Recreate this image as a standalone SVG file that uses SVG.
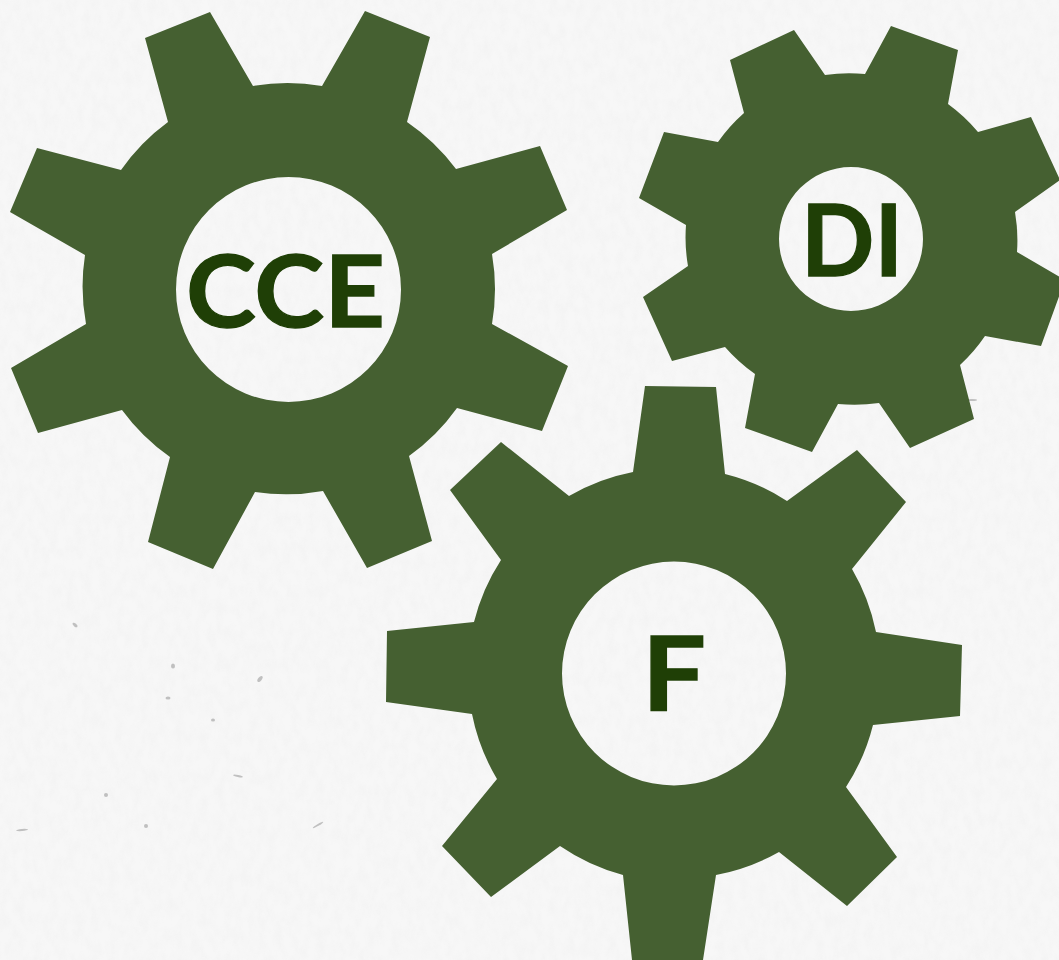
<svg xmlns="http://www.w3.org/2000/svg" width="1059" height="960" viewBox="0 0 1059 960">
<style>
.gear{fill:#456031;fill-rule:evenodd}
.lbl{font-family:"Lato","Liberation Sans",sans-serif;font-weight:700;fill:#1f3f06;stroke:#1f3f06;stroke-width:1.3;text-anchor:start}
.speck{fill:#8a8a8a;opacity:.5}
</style>
<defs>
<filter id="paper" x="0" y="0" width="100%" height="100%">
<feTurbulence type="fractalNoise" baseFrequency="0.12 0.07" numOctaves="4" seed="7"/>
<feColorMatrix type="matrix" values="0 0 0 0 0.55  0 0 0 0 0.55  0 0 0 0 0.55  0.3 0 0 0 -0.1"/>
</filter>
</defs>
<rect id="background" width="1059" height="960" fill="#f7f7f7"/>
<rect width="1059" height="960" filter="url(#paper)" opacity="0.4"/>
<g id="paper-specks">
<ellipse class="speck" cx="260" cy="679" rx="3.500" ry="1.800" transform="rotate(-50 260 679)"/>
<ellipse class="speck" cx="173" cy="666" rx="2" ry="2.500"/>
<ellipse class="speck" cx="168" cy="698" rx="2.500" ry="1.500"/>
<ellipse class="speck" cx="75" cy="625" rx="3" ry="1.500" transform="rotate(40 75 625)"/>
<ellipse class="speck" cx="213" cy="720" rx="2" ry="1.500"/>
<ellipse class="speck" cx="238" cy="776" rx="5" ry="1" transform="rotate(12 238 776)"/>
<ellipse class="speck" cx="22" cy="830" rx="6" ry="1" transform="rotate(-5 22 830)"/>
<ellipse class="speck" cx="106" cy="795" rx="2" ry="2"/>
<ellipse class="speck" cx="146" cy="826" rx="2" ry="2"/>
<ellipse class="speck" cx="402" cy="171" rx="4" ry="3"/>
<ellipse class="speck" cx="175" cy="497" rx="3" ry="3"/>
<ellipse class="speck" cx="318" cy="825" rx="6" ry="1" transform="rotate(-30 318 825)"/>
<ellipse class="speck" cx="972" cy="400" rx="5" ry="1"/>
</g>
<g id="gear-cce">
<path class="gear" d="M253 86A206 206 0 0 1 322 86L365 11L430 37L407 122A206 206 0 0 1 456 169L540 146L567 210L492 254A206 206 0 0 1 492 324L568 366L542 431L457 408A206 206 0 0 1 409 456L432 541L367 568L323 491A206 206 0 0 1 255 492L213 569L148 542L170 457A206 206 0 0 1 122 410L38 433L11 368L86 324A206 206 0 0 1 85 255L10 212L37 148L121 170A206 206 0 0 1 168 122L145 38L210 12ZM401 289.500A112.500 112.500 0 1 0 176 289.500A112.500 112.500 0 1 0 401 289.500Z"/>
<text class="lbl" x="186" y="327" font-size="100" textLength="199" lengthAdjust="spacingAndGlyphs">CCE</text>
</g>
<g id="gear-di">
<path class="gear" d="M825 75A166 166 0 0 1 865 74L891 26L958 50L948 104A166 166 0 0 1 978 132L1031 117L1060 180L1015 212A166 166 0 0 1 1017 252L1065 280L1041 346L985 336A166 166 0 0 1 960 365L974 419L910 448L879 403A166 166 0 0 1 838 404L812 452L745 428L755 374A166 166 0 0 1 725 347L672 361L643 297L688 266A166 166 0 0 1 686 225L639 198L664 132L718 142A166 166 0 0 1 744 113L730 60L794 30ZM923 239A72 72 0 1 0 779 239A72 72 0 1 0 923 239Z"/>
<text class="lbl" x="801" y="276" font-size="100" textLength="102" lengthAdjust="spacingAndGlyphs">DI</text>
</g>
<g id="gear-f">
<path class="gear" d="M645 386L716 387L725 474A205 205 0 0 1 787 501L857 450L906 502L852 569A205 205 0 0 1 876 632L962 645L960 716L873 725A205 205 0 0 1 846 787L897 857L847 906L779 852A205 205 0 0 1 716 875L703 960L632 960L623 875A205 205 0 0 1 560 846L491 897L442 846L497 779A205 205 0 0 1 472 714L386 702L387 631L474 622A205 205 0 0 1 501 560L450 490L501 442L569 496A205 205 0 0 1 633 472ZM786 673.500A112 112 0 1 0 562 673.500A112 112 0 1 0 786 673.500Z"/>
<text class="lbl" x="642" y="711" font-size="104" textLength="64" lengthAdjust="spacingAndGlyphs">F</text>
</g>
</svg>
